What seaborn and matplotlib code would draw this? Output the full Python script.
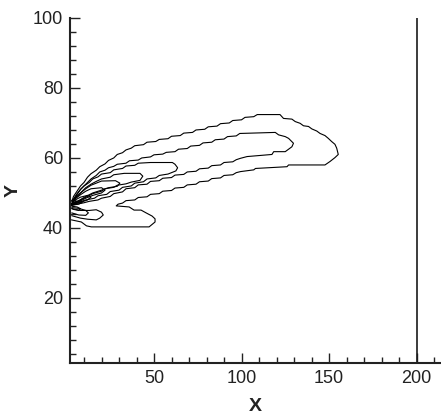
import numpy as np
import pandas as pd
import matplotlib
matplotlib.use("Agg")
import matplotlib.pyplot as plt
from matplotlib.ticker import MultipleLocator
import seaborn as sns

# ---- contour lines (data units) ----
a_x = [3, 4, 6, 8, 10, 12, 14, 17, 19, 22, 24, 27, 29, 32, 34, 37, 39, 44, 46, 51, 53, 58, 60, 65, 67, 72, 74, 79, 81, 86, 88, 93, 95, 100, 102, 107, 109, 122,
       124, 128.8, 130.7, 133.5, 135.4, 138.3, 140.2, 143, 144.9, 147.7, 149.6, 151.5, 153.4, 154.4, 155.3, 153.4, 150.6, 147.7, 126.9, 126, 108, 107,
       99.4, 97, 95, 90, 88, 83, 81, 76, 74, 69, 67, 62, 60, 55, 53, 48, 46, 41, 39, 34, 32, 29.5,
       28.4, 35.8, 38.6, 42.6, 45.5, 48.9, 50.6, 50.6, 47.2, 14.2, 11.4, 8.5, 5.7, 2.8]
a_y = [47.5, 49, 50.5, 52, 53, 54.5, 55.5, 56.5, 57.5, 58.3, 59.3, 60, 61, 61.5, 62.3, 62.8, 63.5, 63.8, 64.5, 64.7, 65.3, 65.5, 66.2, 66.4, 67.1, 67.3, 68, 68.2, 68.9, 69.1, 69.8, 70, 70.7, 70.9, 71.6, 71.8, 72.4, 72.4,
       71.3, 71.1, 70.4, 69.9, 69.2, 69, 68.3, 67.7, 67, 66.4, 65.6, 64.7, 63.9, 62.8, 61, 60.1, 59, 58, 58, 57.5, 57, 56.6,
       56.1, 55.8, 55.2, 55, 54.3, 54.1, 53.4, 53.2, 52.5, 52.3, 51.6, 51.4, 50.7, 50.5, 49.8, 49.6, 48.9, 48.7, 48, 47.8, 47.1, 46.8,
       46.3, 46, 45.1, 45.1, 44.3, 43.4, 42.6, 41.7, 40.3, 40.3, 40.6, 41.7, 42, 42.3]

b_x = [3, 4, 6, 8, 10, 12, 14, 17, 19, 22, 24, 27, 29, 34, 36, 41, 43, 48, 50, 55, 57, 62, 64, 69, 71, 76, 78, 83, 85, 90, 92, 97, 99, 119.3,
       121.2, 125, 126.9, 129.7, 128.8, 125, 118.4, 117.4, 103.2, 99.4,
       97, 95, 90, 88, 83, 81, 76, 74, 69, 67, 62, 60, 55, 53, 48, 46, 41, 39, 34, 32, 27, 25, 20, 18, 13, 10, 6, 3]
b_y = [46.5, 48, 49.5, 51, 52, 53, 54, 55, 56, 56.5, 57.2, 57.6, 58.2, 58.5, 59.2, 59.4, 60, 60.3, 60.9, 61.1, 61.6, 61.8, 62.5, 62.7, 63.4, 63.6, 64.3, 64.5, 65.2, 65.4, 66.1, 66.3, 67, 67.3,
       66.6, 66.1, 65.6, 64.2, 63.2, 61.8, 61.8, 61, 60.4, 59.9,
       59.5, 58.9, 58.7, 58, 57.8, 57.1, 56.9, 56.2, 56, 55.3, 55.1, 54.4, 54.2, 53.5, 53.3, 52.5, 52.3, 51.5, 51.2, 50.3, 49.8, 49, 48.5, 48, 47.6, 47.2, 46.8, 46.5]

c_x = [3, 4, 6, 8, 10, 13, 15, 18, 20, 25, 27, 32, 34, 39, 41, 48, 60.5, 62, 63.5, 62.5, 60, 58, 53, 51, 46, 44, 39, 37, 32, 30, 25, 23, 18, 16, 11, 8, 3]
c_y = [46.8, 48.3, 49.8, 51, 52, 53, 54, 54.6, 55.4, 55.8, 56.6, 57, 57.7, 57.9, 58.5, 58.7, 58.7, 58.2, 57.2, 56.3, 55.8, 55.4, 55, 54.3, 54, 53.2, 52.8, 52, 51.6, 50.8, 50.4, 49.6, 49.2, 48.5, 48, 47.5, 46.6]

d_x = [3, 5, 8, 11, 14, 17, 20, 25, 27, 33, 42, 43.6, 42, 37, 34, 29, 27, 22, 20, 15, 12, 8, 3]
d_y = [46.8, 48.5, 50, 51.5, 52.5, 53.3, 54, 54.5, 55.2, 55.6, 55.6, 54.8, 53.6, 53.1, 52.6, 52.2, 51.6, 51.2, 50.5, 49.8, 49, 48, 46.7]

e_x = [3, 5, 8, 11, 14, 17, 20, 28, 30.5, 29, 24, 20, 15, 11, 7, 3]
e_y = [46.9, 48.5, 50, 51.2, 52.2, 52.8, 53.4, 53.5, 52.8, 51.9, 51.5, 50.8, 50, 49, 47.8, 46.8]

f_x = [3, 5, 8, 11, 14, 20, 22, 20, 15, 11, 7, 3]
f_y = [46.9, 48.3, 49.5, 50.5, 51.2, 51.5, 50.8, 50, 49.3, 48.5, 47.5, 46.7]

g_x = [3, 5, 8, 12, 14, 12, 8, 3]
g_y = [46.9, 48, 48.8, 49.3, 48.8, 48, 47.3, 46.6]

h_x = [3, 5, 8, 9, 7, 3]
h_y = [46.8, 47.5, 47.8, 47.3, 46.8, 46.5]

i_x = [3, 6, 8, 7, 4, 3]
i_y = [46.2, 46, 45.5, 45, 45.3, 45.6]

l1_x = [3, 8, 13, 17, 20, 21, 19, 17, 12, 8, 3]
l1_y = [45.5, 45, 45, 45.2, 44.5, 43.7, 42.8, 42.3, 42.5, 42.8, 43.5]

l2_x = [3, 7, 11, 12.5, 11, 7, 3]
l2_y = [45.8, 45.6, 45, 44.3, 43.6, 43.7, 44.3]

contours = {"A": (a_x, a_y), "B": (b_x, b_y), "C": (c_x, c_y), "D": (d_x, d_y),
            "E": (e_x, e_y), "F": (f_x, f_y), "G": (g_x, g_y), "H": (h_x, h_y),
            "I": (i_x, i_y), "L1": (l1_x, l1_y), "L2": (l2_x, l2_y)}

wall_x = [200, 200]
wall_y = [1.4, 100]

x_ticks = [50, 100, 150, 200]
y_ticks = [20, 40, 60, 80, 100]

rows = []
for cid, (xs, ys) in contours.items():
    for k, (xv, yv) in enumerate(zip(xs, ys)):
        rows.append({"cid": cid, "order": k, "x": xv, "y": yv})
df = pd.DataFrame(rows)
wall = pd.DataFrame({"x": wall_x, "y": wall_y, "cid": ["wall"] * len(wall_x)})

sns.set_style("ticks")
plt.rcParams["font.family"] = ["Liberation Sans", "DejaVu Sans"]

fig = plt.figure(figsize=(4.41, 4.15), dpi=100)
ax = fig.add_axes([70 / 441, 52 / 415, 371 / 441, 345 / 415])

sns.lineplot(data=df, x="x", y="y", units="cid", estimator=None, sort=False,
             color="black", linewidth=0.8, ax=ax)
sns.lineplot(data=wall, x="x", y="y", units="cid", estimator=None, sort=False,
             color="#1a1a1a", linewidth=1.2, ax=ax)

ax.set_xlim(2, 214)
ax.set_ylim(1.4, 100)
ax.set_xticks(x_ticks)
ax.set_yticks(y_ticks)
ax.xaxis.set_minor_locator(MultipleLocator(10))
ax.yaxis.set_minor_locator(MultipleLocator(4))
ax.tick_params(which="both", direction="in", width=1.0, color="#222222")
ax.tick_params(which="major", length=7, labelsize=13, pad=5, labelcolor="#222222")
ax.tick_params(which="minor", length=4)
for s in ["top", "right"]:
    ax.spines[s].set_visible(False)
for s in ["left", "bottom"]:
    ax.spines[s].set_linewidth(1.5)
    ax.spines[s].set_color("#222222")

ax.set_xlabel("X", fontsize=14, fontweight="bold", labelpad=8, color="#222222")
ax.set_ylabel("Y", fontsize=14, fontweight="bold", labelpad=8, color="#222222")

fig.savefig("out.png", dpi=100)
